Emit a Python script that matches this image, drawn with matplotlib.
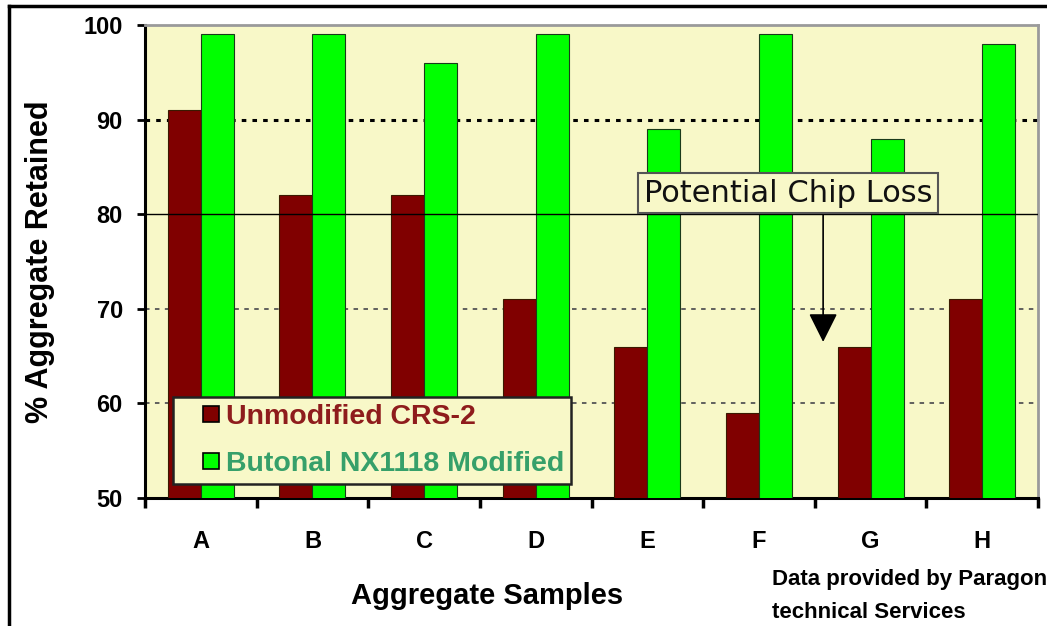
import matplotlib
matplotlib.use("Agg")
import matplotlib.pyplot as plt
from matplotlib.patches import Rectangle
from matplotlib.lines import Line2D
from matplotlib.legend_handler import HandlerPatch
import numpy as np

plt.rcParams['font.family'] = ['Liberation Sans', 'DejaVu Sans']

categories = ['A', 'B', 'C', 'D', 'E', 'F', 'G', 'H']
unmodified = [91, 82, 82, 71, 66, 59, 66, 71]
butonal = [99, 99, 96, 99, 89, 99, 88, 98]
series_names = ['Unmodified CRS-2', 'Butonal NX1118 Modified']
yticks = [50, 60, 70, 80, 90, 100]

W, H = 1047, 626
AX_L, AX_R, AX_T, AX_B = 145, 1038, 25, 498
fig = plt.figure(figsize=(W / 100, H / 100), dpi=100)
fig.patch.set_facecolor('white')
ax = fig.add_axes([AX_L / W, 1 - AX_B / H, (AX_R - AX_L) / W, (AX_B - AX_T) / H])
ax.set_facecolor('#F8F8C8')


def ax_x(px):
    return (px - AX_L) / (AX_R - AX_L)


def ax_y(py):
    return (AX_B - py) / (AX_B - AX_T)


x = np.arange(len(categories))
bw = 0.296
red = '#800000'
green = '#00FF00'
ax.bar(x - bw / 2, unmodified, bw, color=red, edgecolor='#3a1a00', linewidth=0.8, zorder=3)
ax.bar(x + bw / 2, butonal, bw, color=green, edgecolor='#1a3a1a', linewidth=0.8, zorder=3)

ax.set_xlim(-0.5, len(categories) - 0.5)
ax.set_ylim(50, 100)

# gridlines
ax.axhline(90, color='black', lw=2.2, ls=(0, (1.5, 2.0)), zorder=1)
ax.axhline(70, color='#555555', lw=1.3, ls=(0, (2.5, 3.0)), zorder=1)
ax.axhline(60, color='#555555', lw=1.3, ls=(0, (2.5, 3.0)), zorder=1)
ax.axhline(80, color='black', lw=1.0, zorder=4)

# spines
for s in ['left', 'bottom']:
    ax.spines[s].set_color('black')
    ax.spines[s].set_linewidth(2.2)
for s in ['top', 'right']:
    ax.spines[s].set_color('#9a9a9a')
    ax.spines[s].set_linewidth(2.0)

ax.set_yticks(yticks)
ax.set_yticklabels([str(v) for v in yticks], fontsize=17, fontweight='bold')
ax.tick_params(axis='y', direction='out', length=6, width=2, pad=10)

ax.set_xticks(x)
ax.set_xticklabels(categories, fontsize=17, fontweight='bold')
ax.tick_params(axis='x', which='major', length=0, pad=23)
ax.set_xticks(np.arange(len(categories) + 1) - 0.5, minor=True)
ax.tick_params(axis='x', which='minor', direction='out', length=7, width=2.5)

ax.set_xlabel('Aggregate Samples', fontsize=21, fontweight='bold')
ax.xaxis.set_label_coords(ax_x(487), ax_y(596))
ax.xaxis.label.set_verticalalignment('center')
ax.set_ylabel('% Aggregate Retained', fontsize=22, fontweight='bold')
ax.yaxis.set_label_coords(ax_x(40), ax_y(262))
ax.yaxis.label.set_verticalalignment('center')


# legend with square markers at the right end of the handle box
def square_patch(legend, orig_handle, xdescent, ydescent, width, height, fontsize):
    s = 16 * 72 / 100
    return Rectangle((-xdescent + width - s, -ydescent + (height - s) / 2), s, s)


handles = [Rectangle((0, 0), 1, 1, facecolor=red, edgecolor='black', lw=1.2),
           Rectangle((0, 0), 1, 1, facecolor=green, edgecolor='black', lw=1.2)]
leg = ax.legend(handles, series_names, loc='upper left',
                bbox_to_anchor=(ax_x(173), ax_y(397)),
                prop={'size': 20.5, 'weight': 'bold'}, frameon=True, fancybox=False,
                handlelength=1.36, handleheight=0.7, handletextpad=0.25,
                borderpad=0.25, labelspacing=0.72, borderaxespad=0,
                handler_map={Rectangle: HandlerPatch(patch_func=square_patch)})
leg.get_frame().set_facecolor('#F8F8C8')
leg.get_frame().set_edgecolor('#222222')
leg.get_frame().set_linewidth(1.8)
leg.get_frame().set_alpha(1)
leg.set_zorder(6)
leg.get_texts()[0].set_color('#8E1C1C')
leg.get_texts()[1].set_color('#36A06A')

# annotation
ax.annotate('', xy=(5.575, 66.5), xytext=(5.575, 80.2),
            arrowprops=dict(arrowstyle='-|>,head_length=0.9,head_width=0.45',
                            color='black', lw=1.2, mutation_scale=20, shrinkA=0, shrinkB=0),
            zorder=7)
ax.text(5.26, 82.2, 'Potential Chip Loss', fontsize=22, family='DejaVu Sans',
        ha='center', va='center', color='#111111', zorder=8,
        bbox=dict(boxstyle='square,pad=0.18', facecolor='#F8F8C8', edgecolor='#555555', lw=1.5))

# source note
fig.text(772 / W, 1 - 580 / H, 'Data provided by Paragon', fontsize=16, fontweight='bold',
         ha='left', va='center')
fig.text(772 / W, 1 - 613 / H, 'technical Services', fontsize=16, fontweight='bold',
         ha='left', va='center')

# outer frame
fig.add_artist(Line2D([9 / W, 9 / W], [0, 1 - 6 / H], color='black', lw=2.5, transform=fig.transFigure))
fig.add_artist(Line2D([9 / W, 1], [1 - 6 / H, 1 - 6 / H], color='black', lw=2.5, transform=fig.transFigure))

fig.savefig('out.png', dpi=100, facecolor='white')
